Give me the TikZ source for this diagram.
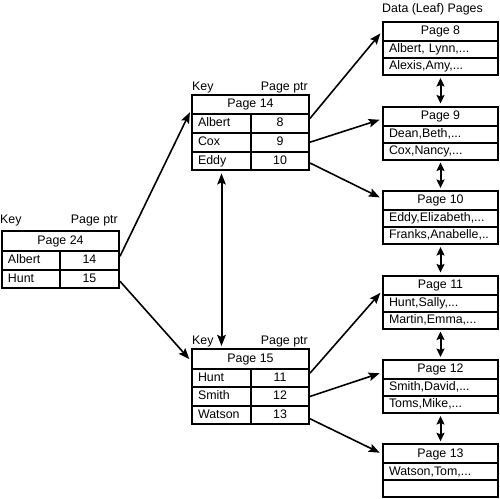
\documentclass[tikz,border=0pt]{standalone}
\usepackage{fontspec}
\setmainfont{Liberation Sans}
\usetikzlibrary{arrows.meta,calc}
\begin{document}
\begin{tikzpicture}[x=1pt,y=-1pt,
  txt/.style={font=\fontsize{12.4}{14}\selectfont, inner sep=0pt},
  cell/.style={txt, draw, line width=2pt, text height=9pt, text depth=2.5pt, anchor=north west},
  hcell/.style={cell, minimum width=#1},
  lcell/.style={cell, text width=#1, align=left, inner xsep=6pt},
  arr/.style={line width=1.6pt, -{Stealth[length=11pt,width=8.5pt,inset=2pt]}, shorten >=2.5pt},
  darr/.style={line width=2pt, {Stealth[length=11pt,width=8.5pt,inset=2pt]}-{Stealth[length=11pt,width=8.5pt,inset=2pt]}, shorten >=2pt, shorten <=2pt},
  larr/.style={line width=2pt, {Stealth[length=8.5pt,width=8pt,inset=1.5pt]}-{Stealth[length=8.5pt,width=8pt,inset=1.5pt]}, shorten >=2pt, shorten <=2pt}
]
\useasboundingbox (0,0) rectangle (500,498);

% ---- Page 24 ----
\node[txt, anchor=base west] (k24) at (0,223) {Key};
\node[txt, anchor=base east] (pp24) at (118,223) {Page ptr};
\node[hcell=117pt, minimum height=20pt] (p24) at (1,230) {Page 24};
\node[lcell=46pt, minimum height=18.5pt] (p24k1) at (1,250) {Albert};
\node[hcell=59pt, minimum height=18.5pt] (p24v1) at (59,250) {14};
\node[lcell=46pt, minimum height=18.5pt] (p24k2) at (1,268.5) {Hunt};
\node[hcell=59pt, minimum height=18.5pt] (p24v2) at (59,268.5) {15};

% ---- Page 14 ----
\node[txt, anchor=base west] (k14) at (192,90) {Key};
\node[txt, anchor=base east] (pp14) at (308,90) {Page ptr};
\node[hcell=117pt, minimum height=19pt] (p14) at (191,94) {Page 14};
\node[lcell=47pt, minimum height=18.8pt] (p14k1) at (191,113) {Albert};
\node[hcell=58pt, minimum height=18.8pt] (p14v1) at (250,113) {8};
\node[lcell=47pt, minimum height=18.8pt] (p14k2) at (191,131.8) {Cox};
\node[hcell=58pt, minimum height=18.8pt] (p14v2) at (250,131.8) {9};
\node[lcell=47pt, minimum height=18.8pt] (p14k3) at (191,150.6) {Eddy};
\node[hcell=58pt, minimum height=18.8pt] (p14v3) at (250,150.6) {10};

% ---- Page 15 ----
\node[txt, anchor=base west] (k15) at (192,344) {Key};
\node[txt, anchor=base east] (pp15) at (308,344) {Page ptr};
\node[hcell=117pt, minimum height=20pt] (p15) at (191,348) {Page 15};
\node[lcell=47pt, minimum height=18.3pt] (p15k1) at (191,368) {Hunt};
\node[hcell=58pt, minimum height=18.3pt] (p15v1) at (250,368) {11};
\node[lcell=47pt, minimum height=18.3pt] (p15k2) at (191,386.3) {Smith};
\node[hcell=58pt, minimum height=18.3pt] (p15v2) at (250,386.3) {12};
\node[lcell=47pt, minimum height=18.3pt] (p15k3) at (191,404.6) {Watson};
\node[hcell=58pt, minimum height=18.3pt] (p15v3) at (250,404.6) {13};

% ---- Leaf pages ----
\node[txt, anchor=base west] (dl) at (382,12.5) {Data (Leaf) Pages};

\node[hcell=115pt, minimum height=19pt] (l8) at (382,21) {Page 8};
\node[lcell=103pt, minimum height=17pt] (l8a) at (382,40) {Albert, Lynn,...};
\node[lcell=103pt, minimum height=17pt] (l8b) at (382,57) {Alexis,Amy,...};

\node[hcell=115pt, minimum height=19pt] (l9) at (382,105.5) {Page 9};
\node[lcell=103pt, minimum height=17pt] (l9a) at (382,124.5) {Dean,Beth,...};
\node[lcell=103pt, minimum height=17pt] (l9b) at (382,141.5) {Cox,Nancy,...};

\node[hcell=115pt, minimum height=19pt] (l10) at (382,190) {Page 10};
\node[lcell=103pt, minimum height=17pt] (l10a) at (382,209) {Eddy,Elizabeth,...};
\node[lcell=103pt, minimum height=17pt] (l10b) at (382,226) {Franks,Anabelle,..};

\node[hcell=115pt, minimum height=19pt] (l11) at (382,274.5) {Page 11};
\node[lcell=103pt, minimum height=17pt] (l11a) at (382,293.5) {Hunt,Sally,...};
\node[lcell=103pt, minimum height=17pt] (l11b) at (382,310.5) {Martin,Emma,...};

\node[hcell=115pt, minimum height=19pt] (l12) at (382,359) {Page 12};
\node[lcell=103pt, minimum height=17pt] (l12a) at (382,378) {Smith,David,...};
\node[lcell=103pt, minimum height=17pt] (l12b) at (382,395) {Toms,Mike,...};

\node[hcell=115pt, minimum height=19pt] (l13) at (382,443.3) {Page 13};
\node[lcell=103pt, minimum height=17pt] (l13a) at (382,462.3) {Watson,Tom,...};
\node[lcell=103pt, minimum height=17pt] (l13b) at (382,479.3) {};

% ---- Arrows: root to index pages ----
\draw[arr] ([yshift=4pt]p24v1.east) -- ([yshift=-5.5pt]p14.west);
\draw[arr] ([yshift=-2.5pt]p24v2.east) -- ([yshift=-2pt]p15.west);

% ---- Arrows: index pages to leaves ----
\draw[arr] ([yshift=5pt]p14v1.east) -- (l8.west);
\draw[arr] (p14v2.east) -- ([yshift=-3pt]l9.west);
\draw[arr] ([yshift=-2pt]p14v3.east) -- ([yshift=2pt]l10.west);
\draw[arr] ([yshift=5pt]p15v1.east) -- ([yshift=-6pt]l11.west);
\draw[arr] (p15v2.east) -- ([yshift=-3pt]l12.west);
\draw[arr] ([yshift=-4pt]p15v3.east) -- (l13.west);

% ---- Sibling links ----
\draw[darr] (p14k3.south) -- (p14k3.south |- p15.north);
\draw[larr] (l8b.south) -- (l9.north);
\draw[larr] (l9b.south) -- (l10.north);
\draw[larr] (l10b.south) -- (l11.north);
\draw[larr] (l11b.south) -- (l12.north);
\draw[larr] (l12b.south) -- (l13.north);
\end{tikzpicture}
\end{document}
